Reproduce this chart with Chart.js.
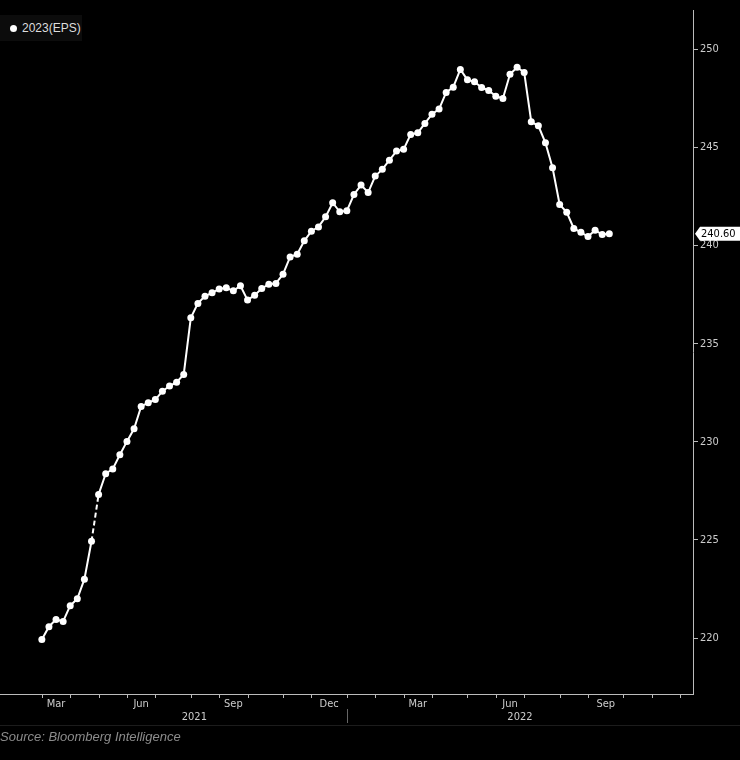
<!DOCTYPE html>
<html>
<head>
<meta charset="utf-8">
<script src="https://cdn.jsdelivr.net/npm/chart.js@4.4.1/dist/chart.umd.min.js"></script>
<style>
  html, body { margin: 0; padding: 0; background: #000; overflow: hidden; }
  #wrap { position: relative; width: 740px; height: 760px; }
  #legend {
    position: absolute; left: 0; top: 15px; width: 82px; height: 26px;
    background: #0c0c0c; font: 12px "Liberation Sans", Arial, sans-serif; color: #ddd;
  }
  #legend .dot {
    position: absolute; left: 10px; top: 10px; width: 7px; height: 7px;
    border-radius: 50%; background: #fff;
  }
  #legend .txt { position: absolute; left: 22px; top: 6px; }
  #source {
    position: absolute; left: 0; top: 729px;
    font: italic 13px "Liberation Sans", Arial, sans-serif; color: #8c8c8c;
  }
</style>
</head>
<body>
<div id="wrap">
  <canvas id="epsChart"></canvas>
  <div id="legend"><span class="dot"></span><span class="txt">2023(EPS)</span></div>
  <div id="source">Source: Bloomberg Intelligence</div>
</div>
<script>
// weekly 2023 EPS estimate, first week = start of Mar 2021
const epsValues = [
  219.93, 220.58, 220.95, 220.85, 221.65, 222.00, 223.00, 224.93, 227.32, 228.37,
  228.62, 229.34, 230.02, 230.66, 231.80, 231.99, 232.15, 232.58, 232.84, 233.04,
  233.43, 236.32, 237.05, 237.42, 237.59, 237.79, 237.85, 237.69, 237.95, 237.22,
  237.47, 237.81, 238.03, 238.07, 238.54, 239.42, 239.56, 240.24, 240.73, 240.95,
  241.46, 242.18, 241.72, 241.77, 242.60, 243.08, 242.70, 243.54, 243.88, 244.35,
  244.81, 244.90, 245.66, 245.74, 246.22, 246.69, 246.95, 247.80, 248.07, 248.97,
  248.44, 248.34, 248.05, 247.90, 247.61, 247.49, 248.73, 249.08, 248.82, 246.30,
  246.10, 245.23, 243.96, 242.09, 241.69, 240.87, 240.67, 240.46, 240.78, 240.56,
  240.60
];
const dashedAfter = 7; // segment 7 -> 8 is drawn dashed

// week index where each month begins (tick marks)
const monthStarts = [0, 4, 8, 12, 16, 21, 25, 29, 34, 38, 43, 47, 51, 55, 60, 64, 68, 73, 77, 82, 86, 90];
// labelled months: [first week, next month start]
const monthLabels = ['Mar', 'Jun', 'Sep', 'Dec', 'Mar', 'Jun', 'Sep'];
const monthLabelSpans = [[0, 4], [12, 16], [25, 29], [38, 43], [51, 55], [64, 68], [77, 82]];
const yearLabels = ['2021', '2022'];
const yearStarts = [0, 43];
const yTicks = [220, 225, 230, 235, 240, 245, 250];

const points = epsValues.map((v, i) => ({ x: i, y: v }));
const axisFont = '11px "DejaVu Sans Condensed", "Liberation Sans Narrow", Arial, sans-serif';

// month ticks, month and year labels under the x axis
const timeAxisPlugin = {
  id: 'timeAxis',
  afterDraw(chart) {
    const ctx = chart.ctx;
    const xs = chart.scales.x;
    const base = chart.chartArea.bottom;
    ctx.save();
    ctx.strokeStyle = '#bbb';
    ctx.lineWidth = 1;
    monthStarts.forEach(w => {
      const px = Math.round(xs.getPixelForValue(w)) + 0.5;
      ctx.beginPath();
      ctx.moveTo(px, base);
      ctx.lineTo(px, base + 4);
      ctx.stroke();
    });
    ctx.fillStyle = '#ccc';
    ctx.font = axisFont;
    ctx.textAlign = 'center';
    ctx.textBaseline = 'middle';
    monthLabels.forEach((m, i) => {
      const span = monthLabelSpans[i];
      const px = (xs.getPixelForValue(span[0]) + xs.getPixelForValue(span[1])) / 2;
      ctx.fillText(m, px, base + 10);
    });
    // years
    yearLabels.forEach((y, i) => {
      const x0 = xs.getPixelForValue(yearStarts[i]);
      const x1 = i + 1 < yearStarts.length ? xs.getPixelForValue(yearStarts[i + 1]) : chart.chartArea.right;
      ctx.fillText(y, (x0 + x1) / 2, base + 23);
    });
    ctx.strokeStyle = '#666';
    yearStarts.slice(1).forEach(w => {
      const px = Math.round(xs.getPixelForValue(w)) + 0.5;
      ctx.beginPath();
      ctx.moveTo(px, base + 15);
      ctx.lineTo(px, base + 29);
      ctx.stroke();
    });
    ctx.strokeStyle = '#1c1c1c';
    ctx.beginPath();
    ctx.moveTo(0, base + 31.5);
    ctx.lineTo(chart.width, base + 31.5);
    ctx.stroke();
    ctx.restore();
  }
};

// last value tag on the right axis
const lastValuePlugin = {
  id: 'lastValue',
  afterDraw(chart) {
    const ctx = chart.ctx;
    const ys = chart.scales.y;
    const last = epsValues[epsValues.length - 1];
    const py = ys.getPixelForValue(last);
    const left = chart.chartArea.right + 2;
    ctx.save();
    ctx.fillStyle = '#fff';
    ctx.beginPath();
    ctx.moveTo(left, py);
    ctx.lineTo(left + 5, py - 7);
    ctx.lineTo(740, py - 7);
    ctx.lineTo(740, py + 7);
    ctx.lineTo(left + 5, py + 7);
    ctx.closePath();
    ctx.fill();
    ctx.fillStyle = '#000';
    ctx.font = '11px "DejaVu Sans Condensed", Arial, sans-serif';
    ctx.textAlign = 'left';
    ctx.textBaseline = 'middle';
    ctx.fillText(last.toFixed(2), left + 6, py + 0.5);
    ctx.restore();
  }
};

const ctx = document.getElementById('epsChart').getContext('2d');
const epsChart = new Chart(ctx, {
  type: 'line',
  data: {
    datasets: [{
      label: '2023(EPS)',
      data: points,
      borderColor: '#fff',
      borderWidth: 2,
      pointRadius: 3.5,
      pointBackgroundColor: '#fff',
      pointBorderWidth: 0,
      tension: 0,
      segment: {
        borderDash: c => c.p0DataIndex === dashedAfter ? [5, 3] : undefined
      }
    }]
  },
  options: {
    responsive: true,
    maintainAspectRatio: false,
    animation: false,
    layout: { autoPadding: false, padding: { top: 10, left: 0, right: 0, bottom: 0 } },
    scales: {
      x: {
        type: 'linear',
        min: -5.9,
        max: 91.8,
        afterFit: axis => { axis.height = 66; },
        grid: { display: false },
        border: { display: true, color: '#bbb', width: 1 },
        ticks: { display: false }
      },
      y: {
        position: 'right',
        min: 217.15,
        max: 252,
        afterBuildTicks: axis => { axis.ticks = yTicks.map(v => ({ value: v })); },
        afterFit: axis => { axis.width = 47; },
        grid: { drawOnChartArea: false, drawTicks: true, tickLength: 5, color: '#bbb' },
        border: { display: true, color: '#bbb', width: 1 },
        ticks: {
          color: '#ccc',
          padding: 2,
          font: { family: '"DejaVu Sans Condensed", "Liberation Sans Narrow", Arial, sans-serif', size: 11 }
        }
      }
    },
    plugins: {
      legend: { display: false },
      tooltip: { enabled: false }
    }
  },
  plugins: [timeAxisPlugin, lastValuePlugin]
});
</script>
</body>
</html>
